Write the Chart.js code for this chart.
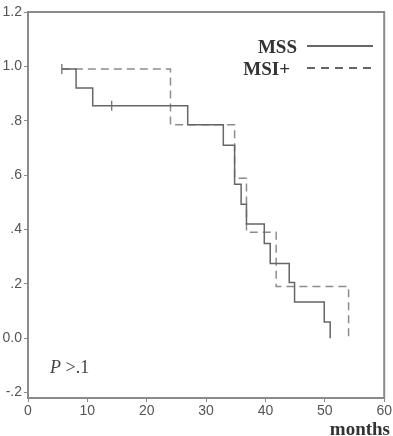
<!DOCTYPE html>
<html>
<head>
<meta charset="utf-8">
<script src="https://cdn.jsdelivr.net/npm/chart.js@4/dist/chart.umd.min.js"></script>
<style>
  body { margin: 0; background: #fff; }
  #wrap { width: 393px; height: 436px; position: relative; }
</style>
</head>
<body>
<div id="wrap"><canvas id="km"></canvas></div>
<script>
// survival curves (months, cumulative survival)
const mssMonths = [5.7, 8.1, 10.9, 26.9, 32.9, 34.8, 35.9, 36.8, 39.8, 40.8, 44.0, 44.9, 49.9, 50.9];
const mssSurv   = [0.99, 0.92, 0.855, 0.785, 0.71, 0.566, 0.493, 0.42, 0.348, 0.275, 0.205, 0.133, 0.06, 0.0];
const msiMonths = [5.7, 24.0, 34.8, 36.8, 41.8, 54.0];
const msiSurv   = [0.99, 0.785, 0.588, 0.39, 0.19, 0.0];
// censored cases (MSS)
const censMonths = [5.7, 14.1];
const censSurv   = [0.99, 0.855];

const yTickLabels = {"1.2": "1.2", "1": "1.0", "0.8": ".8", "0.6": ".6", "0.4": ".4", "0.2": ".2", "0": "0.0", "-0.2": "-.2"};

const toPts = (xs, ys) => xs.map((x, i) => ({ x: x, y: ys[i] }));

const boxAndText = {
  id: "boxAndText",
  afterDraw(chart) {
    const ctx = chart.ctx;
    const a = chart.chartArea;
    ctx.save();
    ctx.strokeStyle = "#8a8a8a";
    ctx.lineWidth = 2;
    ctx.strokeRect(a.left, a.top, a.right - a.left, a.bottom - a.top);

    // legend
    ctx.fillStyle = "#333";
    ctx.font = "bold 19px 'Liberation Serif', 'Times New Roman', serif";
    ctx.textAlign = "right";
    ctx.textBaseline = "alphabetic";
    ctx.fillText("MSS", 297, 53);
    ctx.fillText("MSI+", 290, 75);
    ctx.strokeStyle = "#333";
    ctx.lineWidth = 1.5;
    ctx.beginPath(); ctx.moveTo(307, 46); ctx.lineTo(373, 46); ctx.stroke();
    ctx.setLineDash([8, 6]);
    ctx.beginPath(); ctx.moveTo(307, 68); ctx.lineTo(373, 68); ctx.stroke();
    ctx.setLineDash([]);

    // p-value
    ctx.textAlign = "left";
    ctx.fillStyle = "#444";
    ctx.font = "italic 18px 'Liberation Serif', 'Times New Roman', serif";
    ctx.fillText("P", 50, 373);
    const pw = ctx.measureText("P ").width;
    ctx.font = "18px 'Liberation Serif', 'Times New Roman', serif";
    ctx.fillText(">.1", 50 + pw, 373);

    // x axis title
    ctx.fillStyle = "#333";
    ctx.font = "bold 19px 'Liberation Serif', 'Times New Roman', serif";
    ctx.textAlign = "right";
    ctx.fillText("months", 390, 435);
    ctx.restore();
  }
};

new Chart(document.getElementById("km"), {
  type: "line",
  data: {
    datasets: [
      {
        label: "MSS",
        data: toPts(mssMonths, mssSurv),
        stepped: true,
        borderColor: "#666",
        borderWidth: 1.5,
        pointRadius: 0,
        fill: false
      },
      {
        label: "MSI+",
        data: toPts(msiMonths, msiSurv),
        stepped: true,
        borderColor: "#8c8c8c",
        borderWidth: 1.5,
        borderDash: [8, 5],
        pointRadius: 0,
        fill: false
      },
      {
        label: "censored",
        type: "scatter",
        data: toPts(censMonths, censSurv),
        pointStyle: "line",
        rotation: 90,
        radius: 5,
        borderColor: "#666",
        borderWidth: 1.2,
        showLine: false
      }
    ]
  },
  options: {
    responsive: true,
    maintainAspectRatio: false,
    animation: false,
    layout: { padding: { top: 12, right: 8, left: 0, bottom: 0 } },
    plugins: { legend: { display: false }, tooltip: { enabled: false } },
    scales: {
      x: {
        type: "linear",
        min: 0,
        max: 60,
        afterFit: (s) => { s.height = 38; },
        ticks: { stepSize: 10, color: "#555", padding: 1, maxRotation: 0,
                 font: { family: "'Liberation Sans', Arial, sans-serif", size: 14 } },
        grid: { drawOnChartArea: false, tickLength: 4, color: "#8a8a8a" },
        border: { color: "#8a8a8a", width: 2 }
      },
      y: {
        min: -0.22,
        max: 1.2,
        afterFit: (s) => { s.width = 28; },
        afterBuildTicks: (s) => {
          s.ticks = Object.keys(yTickLabels).map((v) => ({ value: parseFloat(v) }));
        },
        ticks: {
          color: "#555",
          padding: 2,
          font: { family: "'Liberation Sans', Arial, sans-serif", size: 14 },
          callback: (v) => yTickLabels[String(Math.round(v * 10) / 10)]
        },
        grid: { drawOnChartArea: false, tickLength: 4, color: "#8a8a8a" },
        border: { color: "#8a8a8a", width: 2 }
      }
    }
  },
  plugins: [boxAndText]
});
</script>
</body>
</html>
